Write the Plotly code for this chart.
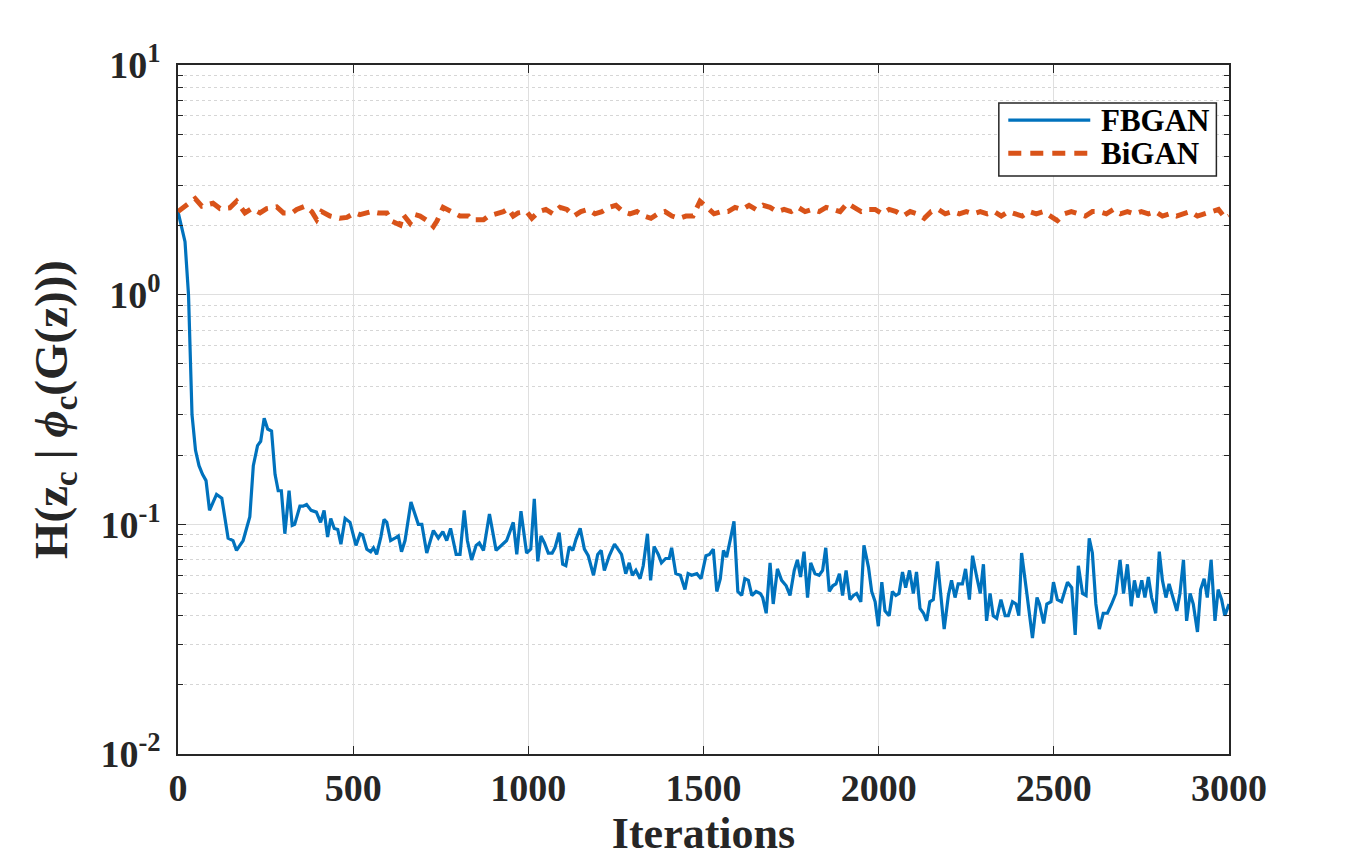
import plotly.graph_objects as go

# FBGAN curve
fb_iter = [0, 20, 30, 40, 50, 60, 70, 80, 90, 110, 125, 143, 157, 167, 186, 205, 215, 227, 236, 246,
           256, 267, 277, 286, 295, 305, 317, 326, 333, 348, 357, 367, 380, 395, 407, 417, 427, 436, 446, 456,
           465, 477, 491, 508, 520, 527, 539, 550, 558, 567, 579, 588, 596, 607, 619, 629, 638, 648, 665, 677,
           686, 696, 710, 729, 743, 756, 767, 778, 794, 805, 817, 826, 838, 851, 860, 872, 889, 908, 924, 938,
           957, 967, 979, 995, 1007, 1017, 1027, 1036, 1046, 1057, 1068, 1076, 1088, 1098, 1107, 1117, 1127, 1136, 1148, 1160,
           1171, 1186, 1198, 1208, 1217, 1231, 1246, 1257, 1266, 1278, 1288, 1297, 1307, 1319, 1328, 1340, 1349, 1359, 1371, 1380,
           1392, 1402, 1409, 1421, 1434, 1447, 1456, 1466, 1481, 1493, 1507, 1517, 1528, 1538, 1548, 1557, 1566, 1578, 1587, 1598,
           1609, 1618, 1628, 1638, 1650, 1662, 1669, 1679, 1690, 1699, 1711, 1723, 1736, 1747, 1759, 1768, 1777, 1787, 1797, 1806,
           1818, 1830, 1840, 1849, 1859, 1869, 1878, 1888, 1897, 1907, 1918, 1928, 1937, 1949, 1958, 1971, 1980, 1990, 1999, 2009,
           2018, 2030, 2039, 2049, 2058, 2068, 2077, 2088, 2099, 2108, 2118, 2128, 2137, 2146, 2156, 2168, 2177, 2187, 2199, 2208,
           2218, 2227, 2239, 2248, 2259, 2268, 2280, 2290, 2299, 2308, 2318, 2327, 2337, 2349, 2361, 2370, 2382, 2392, 2400, 2408,
           2423, 2439, 2452, 2459, 2471, 2480, 2492, 2499, 2510, 2522, 2539, 2551, 2561, 2570, 2582, 2592, 2601, 2610, 2620, 2630,
           2641, 2653, 2665, 2677, 2689, 2699, 2710, 2721, 2730, 2740, 2751, 2760, 2770, 2779, 2791, 2801, 2810, 2820, 2829, 2840,
           2851, 2860, 2870, 2879, 2889, 2898, 2910, 2919, 2929, 2938, 2949, 2960, 2969, 2979, 2988, 3000]
fb_val = [2.3, 1.7, 1.0, 0.3, 0.21, 0.18, 0.165, 0.155, 0.115, 0.135, 0.13, 0.087, 0.085, 0.077, 0.085, 0.108, 0.18, 0.22, 0.23, 0.29,
          0.26, 0.255, 0.165, 0.14, 0.14, 0.091, 0.14, 0.099, 0.10, 0.12, 0.12, 0.122, 0.115, 0.113, 0.102, 0.115, 0.088, 0.106, 0.096, 0.095,
          0.082, 0.106, 0.102, 0.081, 0.091, 0.09, 0.078, 0.076, 0.079, 0.074, 0.088, 0.105, 0.102, 0.085, 0.087, 0.089, 0.076, 0.085, 0.125, 0.109,
          0.10, 0.10, 0.075, 0.094, 0.087, 0.093, 0.085, 0.096, 0.074, 0.074, 0.115, 0.085, 0.07, 0.081, 0.083, 0.077, 0.111, 0.077, 0.081, 0.085,
          0.102, 0.074, 0.114, 0.075, 0.078, 0.129, 0.069, 0.089, 0.083, 0.075, 0.075, 0.079, 0.092, 0.067, 0.066, 0.080, 0.077, 0.086, 0.096, 0.078,
          0.073, 0.060, 0.074, 0.077, 0.063, 0.073, 0.082, 0.077, 0.074, 0.061, 0.068, 0.060, 0.063, 0.058, 0.066, 0.091, 0.057, 0.080, 0.074, 0.068,
          0.071, 0.071, 0.079, 0.061, 0.060, 0.052, 0.061, 0.060, 0.061, 0.058, 0.073, 0.074, 0.078, 0.051, 0.058, 0.077, 0.072, 0.088, 0.103, 0.051,
          0.049, 0.058, 0.057, 0.049, 0.051, 0.050, 0.048, 0.041, 0.068, 0.045, 0.064, 0.057, 0.054, 0.049, 0.063, 0.070, 0.059, 0.076, 0.048, 0.068,
          0.061, 0.060, 0.063, 0.079, 0.051, 0.054, 0.055, 0.061, 0.049, 0.063, 0.047, 0.049, 0.050, 0.046, 0.081, 0.065, 0.051, 0.046, 0.036, 0.056,
          0.042, 0.040, 0.051, 0.049, 0.050, 0.062, 0.053, 0.063, 0.050, 0.062, 0.043, 0.041, 0.038, 0.046, 0.047, 0.069, 0.050, 0.035, 0.049, 0.057,
          0.048, 0.055, 0.055, 0.064, 0.047, 0.073, 0.059, 0.050, 0.067, 0.038, 0.050, 0.040, 0.039, 0.047, 0.040, 0.040, 0.046, 0.045, 0.040, 0.075,
          0.050, 0.032, 0.048, 0.045, 0.037, 0.045, 0.046, 0.056, 0.047, 0.046, 0.056, 0.053, 0.033, 0.066, 0.050, 0.049, 0.087, 0.075, 0.045, 0.035,
          0.041, 0.041, 0.045, 0.050, 0.070, 0.050, 0.067, 0.044, 0.057, 0.048, 0.057, 0.048, 0.059, 0.048, 0.041, 0.076, 0.057, 0.048, 0.055, 0.048,
          0.042, 0.050, 0.070, 0.038, 0.050, 0.045, 0.034, 0.052, 0.058, 0.048, 0.070, 0.038, 0.052, 0.047, 0.040, 0.045]

# BiGAN curve
bi_iter = [0, 20, 49, 68, 100, 120, 148, 167, 191, 210, 234, 253, 282, 301, 325, 339, 363, 382, 396, 410,
           434, 462, 482, 505, 519, 553, 572, 596, 610, 634, 643, 662, 677, 691, 714, 729, 739, 757, 786, 805,
           829, 838, 872, 886, 929, 943, 957, 971, 995, 1010, 1030, 1050, 1070, 1090, 1110, 1130, 1150, 1170, 1190, 1210,
           1230, 1250, 1270, 1290, 1310, 1330, 1350, 1370, 1390, 1410, 1430, 1450, 1470, 1490, 1510, 1530, 1550, 1570, 1590, 1610,
           1630, 1650, 1670, 1690, 1710, 1730, 1750, 1770, 1790, 1810, 1830, 1850, 1870, 1890, 1910, 1930, 1950, 1970, 1990, 2010,
           2030, 2050, 2070, 2090, 2110, 2130, 2150, 2170, 2190, 2210, 2230, 2250, 2270, 2290, 2310, 2330, 2350, 2370, 2390, 2410,
           2430, 2450, 2470, 2490, 2510, 2530, 2550, 2570, 2590, 2610, 2630, 2650, 2670, 2690, 2710, 2730, 2750, 2770, 2790, 2810,
           2830, 2850, 2870, 2890, 2910, 2930, 2950, 2970, 2990, 3000]
bi_val = [2.3, 2.43, 2.62, 2.43, 2.5, 2.37, 2.39, 2.55, 2.27, 2.37, 2.27, 2.37, 2.41, 2.27, 2.27, 2.35, 2.43, 2.3, 2.12, 2.3,
          2.2, 2.15, 2.17, 2.27, 2.23, 2.3, 2.27, 2.27, 2.09, 2.01, 2.23, 2.05, 2.23, 2.2, 2.09, 1.98, 2.09, 2.4, 2.27, 2.2,
          2.2, 2.12, 2.12, 2.2, 2.3, 2.37, 2.2, 2.27, 2.3, 2.15, 2.3, 2.35, 2.25, 2.4, 2.35, 2.2, 2.3, 2.35, 2.25, 2.3,
          2.4, 2.45, 2.3, 2.25, 2.3, 2.2, 2.15, 2.25, 2.3, 2.2, 2.15, 2.2, 2.2, 2.55, 2.4, 2.25, 2.3, 2.3, 2.4, 2.35,
          2.45, 2.35, 2.45, 2.4, 2.3, 2.35, 2.3, 2.4, 2.3, 2.35, 2.3, 2.4, 2.35, 2.3, 2.5, 2.4, 2.3, 2.35, 2.35, 2.25,
          2.35, 2.3, 2.2, 2.3, 2.25, 2.15, 2.3, 2.35, 2.25, 2.3, 2.25, 2.3, 2.25, 2.3, 2.25, 2.3, 2.2, 2.3, 2.25, 2.2,
          2.3, 2.25, 2.3, 2.2, 2.1, 2.25, 2.3, 2.25, 2.2, 2.3, 2.3, 2.25, 2.35, 2.25, 2.3, 2.25, 2.3, 2.25, 2.3, 2.2,
          2.25, 2.2, 2.25, 2.3, 2.2, 2.25, 2.3, 2.35, 2.15, 2.2]

y_ticks = [0.01, 0.1, 1, 10]
y_ticktext = ["10<sup>-2</sup>", "10<sup>-1</sup>", "10<sup>0</sup>", "10<sup>1</sup>"]
x_ticks = [0, 500, 1000, 1500, 2000, 2500, 3000]
series_names = ["FBGAN", "BiGAN"]
series_colors = ["#0072BD", "#D95319"]

font = "Liberation Serif, Times New Roman, serif"

fig = go.Figure()
fig.add_trace(go.Scatter(x=fb_iter, y=fb_val, mode="lines", name=series_names[0],
                         line=dict(color=series_colors[0], width=3.2)))
fig.add_trace(go.Scatter(x=bi_iter, y=bi_val, mode="lines", name=series_names[1],
                         line=dict(color=series_colors[1], width=5, dash="12px,8px")))

# MATLAB-style legend box (long line samples), drawn by hand
leg_x0, leg_x1, leg_y0, leg_y1 = 0.781, 0.988, 0.839, 0.945
fig.add_shape(type="rect", xref="paper", yref="paper", x0=leg_x0, x1=leg_x1, y0=leg_y0, y1=leg_y1,
              line=dict(color="#262626", width=1.5), fillcolor="white", layer="above")
row_y = [0.920, 0.872]
dashes = ["solid", "13px,9px"]
widths = [3.2, 5]
for name, color, yy, d, w in zip(series_names, series_colors, row_y, dashes, widths):
    fig.add_shape(type="line", xref="paper", yref="paper", x0=0.790, x1=0.868, y0=yy, y1=yy,
                  line=dict(color=color, width=w, dash=d), layer="above")
    fig.add_annotation(xref="paper", yref="paper", x=0.876, y=yy, text="<b>%s</b>" % name,
                       showarrow=False, xanchor="left", yanchor="middle",
                       font=dict(size=31, color="black", family=font))

fig.update_layout(
    width=1358, height=862,
    margin=dict(l=170, r=137, t=57, b=116),
    paper_bgcolor="white", plot_bgcolor="white",
    font=dict(family=font, color="#262626", size=38),
    showlegend=False,
    xaxis=dict(range=[0, 3000], tickvals=x_ticks,
               ticktext=["<b>%d</b>" % v for v in x_ticks],
               showgrid=True, gridcolor="#dfdfdf", gridwidth=1,
               showline=True, linecolor="#262626", linewidth=1.5, mirror="ticks",
               ticks="inside", ticklen=8, tickcolor="#262626",
               zeroline=False,
               title=dict(text="<b>Iterations</b>", font=dict(size=44), standoff=6)),
    yaxis=dict(type="log", range=[-2, 1], tickvals=y_ticks,
               ticktext=["<b>%s</b>" % t for t in y_ticktext],
               ticklabelstandoff=8,
               showgrid=True, gridcolor="#dfdfdf", gridwidth=1,
               showline=True, linecolor="#262626", linewidth=1.5, mirror="ticks",
               ticks="inside", ticklen=8, tickcolor="#262626",
               minor=dict(dtick="D1", showgrid=True, griddash="dot", gridcolor="#d6d6d6",
                          ticks="inside", ticklen=5, tickcolor="#262626"),
               zeroline=False,
               title=dict(text="<b>H(z<sub>c</sub> | <i>ϕ</i><sub>c</sub>(G(z)))</b>",
                          font=dict(size=47), standoff=18)),
)

fig.write_html("out.html")
